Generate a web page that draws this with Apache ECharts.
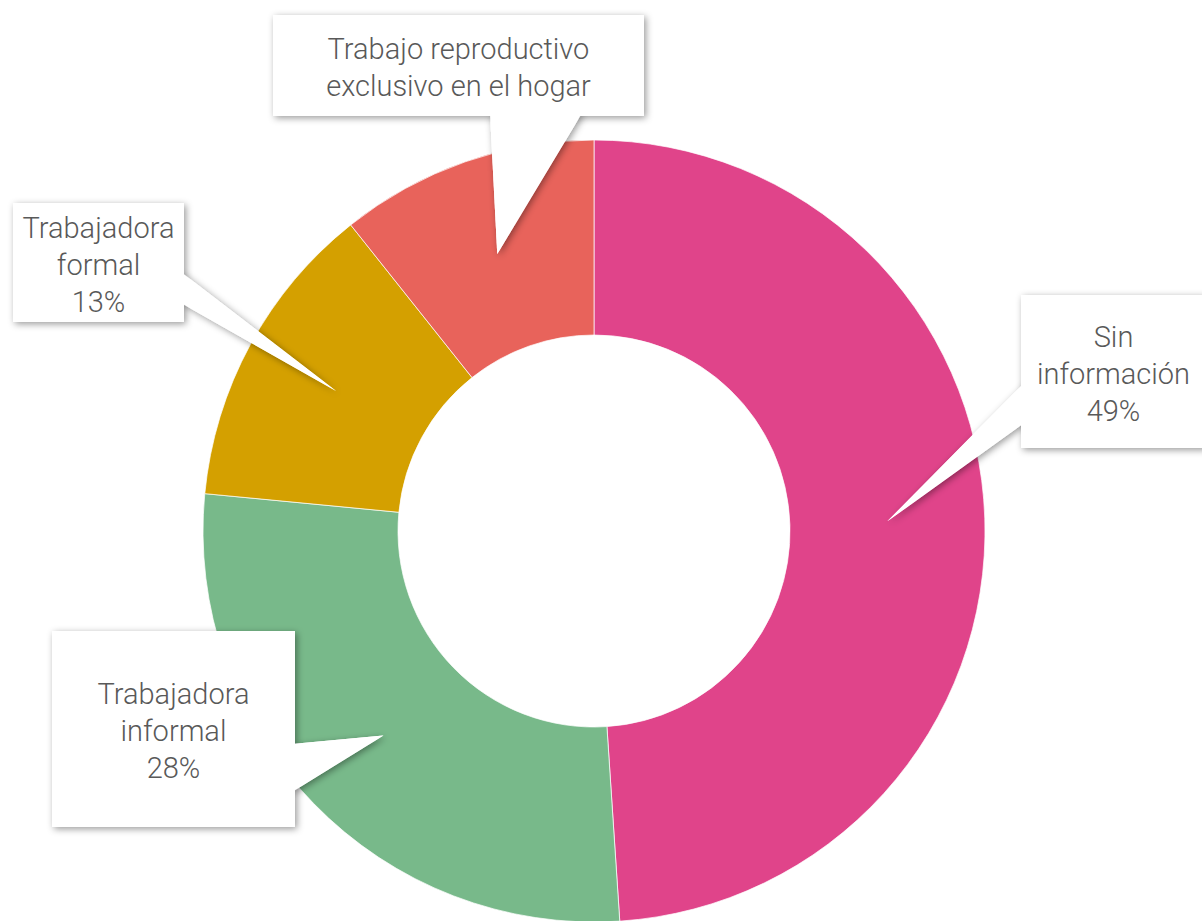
<!DOCTYPE html>
<html>
<head>
<meta charset="utf-8">
<style>
  html, body { margin: 0; padding: 0; background: #fff; }
  #chart { width: 1202px; height: 921px; }
</style>
<script src="https://cdn.jsdelivr.net/npm/echarts@6/dist/echarts.min.js"></script>
</head>
<body>
<div id="chart"></div>
<script>
// data (slice sizes from the angles, label texts as printed)
const categories = ['Sin información', 'Trabajadora informal', 'Trabajadora formal', 'Trabajo reproductivo exclusivo en el hogar']
const values = [49.0, 27.6, 12.8, 10.7]
const labelTexts = ['Sin\ninformación', 'Trabajadora\ninformal', 'Trabajadora\nformal', 'Trabajo reproductivo\nexclusivo en el hogar']
const labelPct = ['49%', '28%', '13%', '']

const colors = ['#E0448A', '#78B98A', '#D4A000', '#E8635B']

// callout boxes: rect [x, y, w, h] and the two base points of the pointer
const callouts = [
  { box: [1021, 295, 185, 153], base: [[1024, 383], [1024, 423]] },
  { box: [52, 631, 243, 196], base: [[292, 744], [292, 792]] },
  { box: [13, 203, 171, 119], base: [[181, 272], [181, 303]] },
  { box: [273, 15, 371, 101], base: [[490, 113], [582, 113]] }
]

const cx = 594, cy = 531, rIn = 196, rOut = 391

const chart = echarts.init(document.getElementById('chart'), null, { renderer: 'svg' })

// pointer tip sits in the middle of each slice (mid angle, mid ring)
const total = values.reduce((a, b) => a + b, 0)
const graphics = []
let acc = 0
values.forEach((v, i) => {
  const c = callouts[i]
  const ang = (acc + v / 2) / total * 2 * Math.PI
  acc += v
  const rm = (rIn + rOut) / 2
  const tip = [cx + rm * Math.sin(ang), cy - rm * Math.cos(ang)]
  const pts = [c.base[0], tip, c.base[1]]
  const [bx, by, bw, bh] = c.box
  const shadow = { shadowBlur: 7, shadowColor: 'rgba(0,0,0,0.4)', shadowOffsetX: 2, shadowOffsetY: 2 }
  graphics.push(
    { type: 'polygon', z: 10, shape: { points: pts }, style: Object.assign({ fill: '#fff' }, shadow) },
    { type: 'rect', z: 10, shape: { x: bx, y: by, width: bw, height: bh }, style: Object.assign({ fill: '#fff' }, shadow) },
    { type: 'rect', z: 11, shape: { x: bx, y: by, width: bw, height: bh }, style: { fill: '#fff' } },
    { type: 'polygon', z: 11, shape: { points: pts }, style: { fill: '#fff' } },
    {
      type: 'text', z: 12,
      style: {
        text: labelTexts[i] + (labelPct[i] ? '\n' + labelPct[i] : ''),
        x: bx + bw / 2, y: by + bh / 2 + 2,
        align: 'center', verticalAlign: 'middle',
        fontFamily: 'Roboto', fontSize: 29, fontWeight: 300, lineHeight: 37,
        fill: '#595959'
      }
    }
  )
})

chart.setOption({
  animation: false,
  color: colors,
  graphic: graphics,
  series: [
    {
      type: 'pie',
      center: [cx, cy],
      radius: [rIn, rOut],
      startAngle: 90,
      clockwise: true,
      avoidLabelOverlap: false,
      label: { show: false },
      labelLine: { show: false },
      emphasis: { disabled: true },
      itemStyle: { borderColor: 'rgba(255,255,255,0.7)', borderWidth: 1 },
      data: categories.map((name, i) => ({ name: name, value: values[i] }))
    }
  ]
})
</script>
</body>
</html>
